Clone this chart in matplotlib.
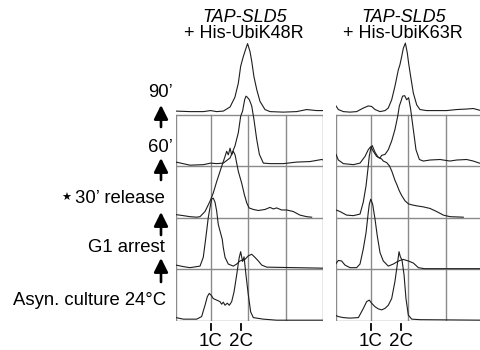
import matplotlib.pyplot as plt
from matplotlib.patches import FancyArrowPatch

plt.rcParams['font.family'] = ['Liberation Sans', 'DejaVu Sans']

W, H = 481.0, 350.0

# DNA content channel (0-1000) vs. relative cell counts, one row = 100
grid_ch = [236, 492, 744]
ticks_ch = [238, 440]
tick_labels = ['1C', '2C']
row_labels = ['Asyn. culture 24°C', 'G1 arrest', '30’ release', '60’', '90’']
titles = ['+ His-UbiK48R', '+ His-UbiK63R']

# --- TAP-SLD5 + His-UbiK48R ---
k48_asyn_x = [0, 50, 118, 140, 174, 197, 213, 226, 240, 253, 276, 299, 310, 321, 333, 348, 362, 378,
              394, 412, 428, 439, 452, 462, 475, 491, 507, 525, 593, 683, 1000]
k48_asyn_y = [6, 3, 3, 3, 8, 30, 47, 53, 49, 43, 40, 37, 32, 36, 30, 34, 30, 37,
              56, 89, 121, 134, 115, 124, 89, 50, 17, 6, 3, 1, 1]
k48_g1_x = [0, 50, 95, 140, 163, 185, 197, 208, 219, 231, 242, 253, 265, 276, 287, 299, 314, 321,
            333, 355, 389, 412, 434, 468, 491, 514, 536, 559, 582, 616, 1000]
k48_g1_y = [8, 5, 3, 5, 6, 23, 49, 74, 100, 120, 136, 138, 130, 113, 87, 74, 58, 42,
            23, 10, 6, 10, 16, 19, 26, 29, 23, 16, 8, 4, 2]
k48_30_x = [0, 50, 95, 140, 163, 197, 231, 253, 276, 299, 314, 333, 344, 355, 367, 378, 389, 401,
            412, 423, 446, 464, 480, 496, 525, 559, 604, 638, 661, 683, 717, 751, 796, 842, 887, 921]
k48_30_y = [6, 4, 2, 1, 2, 12, 32, 48, 70, 90, 103, 119, 129, 122, 135, 122, 129, 122,
            106, 90, 67, 45, 29, 19, 16, 14, 16, 20, 17, 19, 15, 15, 12, 5, 2, 1]
k48_60_x = [0, 95, 186, 235, 276, 321, 367, 400, 423, 439, 452, 466, 475, 484, 498, 514, 529, 548,
            566, 593, 638, 729, 819, 909, 989, 1000]
k48_60_y = [8, 2, 3, 6, 5, 6, 16, 39, 65, 97, 107, 129, 136, 134, 129, 117, 91, 52,
            23, 6, 5, 5, 8, 9, 13, 12]
k48_90_x = [0, 95, 186, 235, 276, 321, 367, 400, 423, 439, 457, 475, 486, 502, 514, 529, 548, 570,
            604, 638, 729, 819, 887, 955, 1000]
k48_90_y = [7, 6, 6, 8, 6, 7, 15, 34, 61, 94, 113, 129, 138, 123, 104, 74, 49, 26,
            10, 6, 5, 6, 10, 8, 8]

# --- TAP-SLD5 + His-UbiK63R ---
k63_asyn_x = [0, 16, 50, 95, 152, 186, 208, 226, 242, 265, 287, 310, 333, 355, 378, 400, 419, 428,
              437, 448, 462, 475, 491, 514, 570, 1000]
k63_asyn_y = [10, 8, 6, 5, 6, 24, 37, 40, 34, 27, 23, 21, 24, 30, 43, 76, 115, 134,
              124, 118, 89, 43, 11, 3, 2, 1]
k63_g1_x = [0, 16, 38, 61, 95, 140, 163, 185, 204, 219, 226, 236, 249, 265, 280, 299, 321, 355,
            389, 412, 434, 457, 491, 525, 559, 600, 1000]
k63_g1_y = [11, 17, 16, 8, 3, 3, 10, 39, 71, 110, 126, 136, 126, 97, 65, 32, 16, 6,
            10, 14, 17, 19, 16, 12, 3, 1, 1]
k63_30_x = [0, 27, 72, 118, 163, 185, 204, 217, 226, 236, 246, 265, 287, 310, 321, 344, 362, 378,
            389, 401, 412, 430, 446, 468, 491, 514, 548, 593, 638, 683, 729, 774, 864]
k63_30_y = [15, 12, 5, 4, 7, 30, 62, 95, 120, 134, 140, 127, 117, 114, 110, 107, 101, 91,
            82, 72, 65, 52, 43, 33, 27, 25, 23, 21, 18, 12, 5, 2, 1]
k63_60_x = [0, 16, 50, 118, 163, 197, 219, 236, 253, 276, 299, 310, 333, 355, 378, 400, 419, 430,
            441, 452, 466, 480, 493, 507, 525, 543, 566, 593, 638, 706, 774, 819, 887, 932, 984, 1000]
k63_60_y = [23, 12, 5, 3, 6, 19, 32, 38, 29, 19, 16, 21, 23, 32, 49, 71, 97, 117,
            126, 136, 137, 129, 133, 110, 71, 32, 13, 10, 12, 13, 10, 12, 13, 10, 5, 5]
k63_90_x = [0, 16, 50, 95, 140, 186, 219, 242, 265, 299, 333, 355, 378, 400, 423, 434, 446, 457,
            471, 484, 493, 507, 525, 548, 570, 615, 683, 751, 819, 887, 932, 984, 1000]
k63_90_y = [17, 10, 6, 5, 6, 13, 17, 16, 10, 6, 8, 13, 29, 55, 87, 97, 113, 129,
            139, 120, 100, 74, 42, 19, 10, 8, 8, 8, 10, 11, 12, 8, 8]

panels = [
    [(k48_asyn_x, k48_asyn_y), (k48_g1_x, k48_g1_y), (k48_30_x, k48_30_y),
     (k48_60_x, k48_60_y), (k48_90_x, k48_90_y)],
    [(k63_asyn_x, k63_asyn_y), (k63_g1_x, k63_g1_y), (k63_30_x, k63_30_y),
     (k63_60_x, k63_60_y), (k63_90_x, k63_90_y)],
]
panel_left = [176, 336]

fig = plt.figure(figsize=(W / 100, H / 100), dpi=100)


def put(x, y, s, **kw):
    fig.text(x / W, 1 - y / H, s, **kw)


fs = 13.3
gray = '#8a8a8a'
for p, traces in enumerate(panels):
    # bottom of the axes at y=320.7 px, 0.515 px per count unit
    ax = fig.add_axes([panel_left[p] / W, (H - 320.7) / H, 147.3 / W, 288.4 / H])
    ax.set_xlim(0, 1000)
    ax.set_ylim(0, 560)
    ax.axis('off')
    for k in range(5):
        ax.plot([0, 1000], [k * 100, k * 100], color=gray, lw=1.0, zorder=1)
    for gx in [0] + grid_ch + [1000]:
        ax.plot([gx, gx], [0, 400], color=gray, lw=1.0, zorder=1)
    for k, (xs, ys) in enumerate(traces):
        ax.plot(xs, [k * 100 + v for v in ys], color='#1e1e1e', lw=0.8, zorder=3)
    for t, lab in zip(ticks_ch, tick_labels):
        ax.plot([t, t], [-6, -18], color='black', lw=1.3, clip_on=False)
        ax.text(t, -50, lab, ha='center', va='baseline', fontsize=13.5)

# column titles
put(244.5, 21.5, 'TAP-SLD5', ha='center', va='baseline', fontsize=fs - 0.3, style='italic')
put(244, 37.5, titles[0], ha='center', va='baseline', fontsize=fs - 0.3)
put(404, 21.5, 'TAP-SLD5', ha='center', va='baseline', fontsize=fs - 0.3, style='italic')
put(402.5, 37.5, titles[1], ha='center', va='baseline', fontsize=fs - 0.3)

# time course labels
put(173, 97, row_labels[4], ha='right', va='baseline', fontsize=fs)
put(173, 152, row_labels[3], ha='right', va='baseline', fontsize=fs)
put(165, 203, row_labels[2], ha='right', va='baseline', fontsize=fs)
put(66, 198, '★', ha='center', va='center', fontsize=8, family='DejaVu Sans')
put(165, 252, row_labels[1], ha='right', va='baseline', fontsize=fs)
put(166, 305, row_labels[0], ha='right', va='baseline', fontsize=fs)

for tail, head in [(127, 105), (180, 158), (235, 212), (282, 258)]:
    fig.add_artist(FancyArrowPatch((161 / W, 1 - tail / H), (161 / W, 1 - head / H),
                                   transform=fig.transFigure,
                                   arrowstyle='-|>,head_length=0.6,head_width=0.3',
                                   mutation_scale=14, lw=1.9, color='black',
                                   shrinkA=0, shrinkB=0))

fig.savefig('out.png', dpi=100)
